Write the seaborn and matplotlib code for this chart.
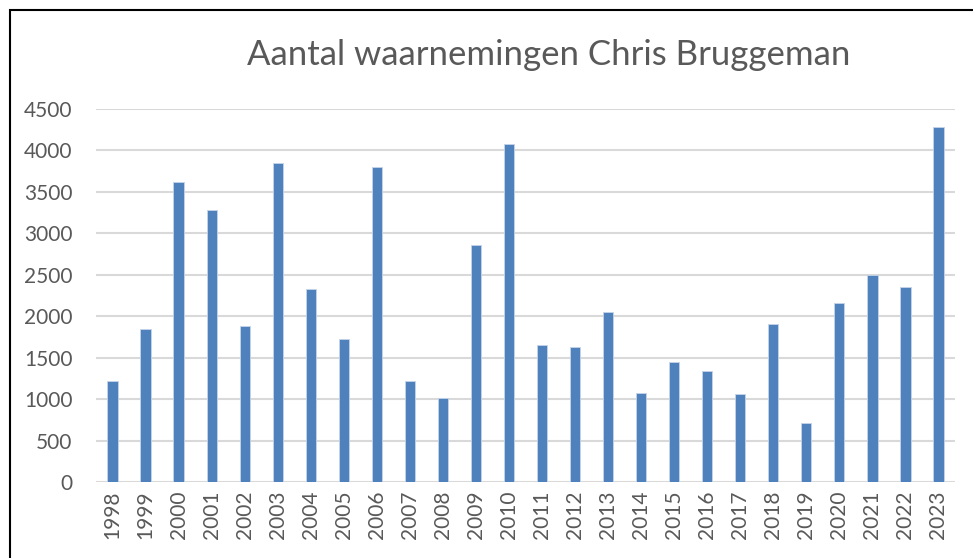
import matplotlib
matplotlib.use('Agg')
import matplotlib.pyplot as plt
from matplotlib.patches import Rectangle
import seaborn as sns
import pandas as pd

# data
jaren = [str(j) for j in range(1998, 2024)]
waarnemingen = [1221, 1847, 3622, 3278, 1880, 3844, 2333, 1723, 3803, 1224,
                1020, 2859, 4077, 1651, 1627, 2049, 1080, 1453, 1341, 1064,
                1904, 718, 2164, 2502, 2350, 4285]
y_ticks = [0, 500, 1000, 1500, 2000, 2500, 3000, 3500, 4000, 4500]

titel = 'Aantal waarnemingen Chris Bruggeman'

sns.set_theme(style='white')
plt.rcParams['font.family'] = ['Lato', 'DejaVu Sans']

df = pd.DataFrame({'jaar': jaren, 'aantal': waarnemingen})

W, H = 973, 558
fig = plt.figure(figsize=(W / 100, H / 100), dpi=100)
ax = fig.add_axes([96 / W, 1 - 482.3 / H, (955 - 96) / W, (482.3 - 109) / H])

sns.barplot(data=df, x='jaar', y='aantal', color='#4f81bd', saturation=1,
            width=0.31, edgecolor='#c6d4ea', linewidth=0.6, ax=ax, zorder=3)

ax.set_ylim(0, 4500)
ax.set_xlim(-0.5, len(jaren) - 0.5)
ax.set_yticks(y_ticks)
ax.yaxis.grid(True, color='#d9d9d9', linewidth=1.5, zorder=0)
ax.set_axisbelow(True)
for s in ax.spines.values():
    s.set_visible(False)
ax.set_xlabel('')
ax.set_ylabel('')
ax.tick_params(axis='y', length=0, pad=17, labelsize=15, labelcolor='#595959')
ax.tick_params(axis='x', length=0, pad=6, labelsize=15, labelcolor='#595959',
               labelrotation=90)

fig.text(549 / W, 1 - 55 / H, titel, ha='center', va='center',
         fontsize=25, color='#595959')

# kader rond de grafiek
fig.patches.append(Rectangle((10 / W, -0.1), 1.2, 1 - 10 / H + 0.1,
                             transform=fig.transFigure, fill=False,
                             edgecolor='black', linewidth=1.5))

fig.savefig('out.png', dpi=100)
